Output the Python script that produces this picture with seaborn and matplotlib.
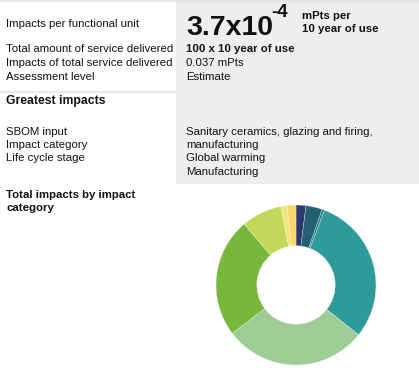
import matplotlib.pyplot as plt
from matplotlib.patches import Rectangle
from matplotlib.lines import Line2D
import seaborn as sns

sns.set_style("white")
plt.rcParams['font.family'] = ['Liberation Sans', 'DejaVu Sans']

W, H = 419, 384

# Datos
share_pct = [2.0, 3.3, 0.5, 29.9, 29.0, 24.1, 8.2, 1.2, 1.8]
slice_colors = ['#2b3a6b', '#245f74', '#1d7f86', '#2e9a99', '#9dcd95',
                '#77b73b', '#c3d85b', '#f2e57e', '#fbd567']

row_labels = ['Total amount of service delivered', 'Impacts of total service delivered',
              'Assessment level']
row_values = ['100 x 10 year of use', '0.037 mPts', 'Estimate']
greatest_labels = ['SBOM input', 'Impact category', 'Life cycle stage']
greatest_values = ['Sanitary ceramics, glazing and firing,', 'manufacturing',
                   'Global warming', 'Manufacturing']

fig = plt.figure(figsize=(W / 100, H / 100), dpi=100)


def px(x, y):
    return x / W, 1 - y / H


def txt(x, y, s, size=8.2, weight='normal'):
    fig.text(*px(x, y), s, fontsize=size, fontweight=weight, ha='left', va='baseline',
             color='#111111')


# panel gris de la derecha
fig.patches.append(Rectangle(px(176, 184), (W - 176) / W, 184 / H,
                             transform=fig.transFigure, facecolor='#eeeeee',
                             edgecolor='none', zorder=0))
for yy, x1 in [(1, W), (92, 176)]:
    fig.lines.append(Line2D([0, x1 / W], [1 - yy / H] * 2, transform=fig.transFigure,
                            color='#e4e4e4', linewidth=1.2))

# bloque superior
txt(6, 27, 'Impacts per functional unit')
txt(186, 35, '3.7x10', size=20.5, weight='bold')
txt(271, 17, '-4', size=13.5, weight='bold')
txt(302, 19, 'mPts per', weight='bold')
txt(302, 32, '10 year of use', weight='bold')
for i, (lab, val) in enumerate(zip(row_labels, row_values)):
    y = 52 + i * 14
    txt(6, y, lab)
    txt(186, y, val, weight='bold' if i == 0 else 'normal')

# mayores impactos
txt(6, 104, 'Greatest impacts', size=8.8, weight='bold')
for i, lab in enumerate(greatest_labels):
    txt(6, 135 + i * 13.2, lab)
for i, val in enumerate(greatest_values):
    txt(186, 135 + i * 13.2, val)

txt(6, 198, 'Total impacts by impact', weight='bold')
txt(6, 211, 'category', weight='bold')

# donut
cx, cy, r = 296, 285, 80
ax = fig.add_axes([(cx - r) / W, 1 - (cy + r) / H, 2 * r / W, 2 * r / H])
ax.pie(share_pct, colors=slice_colors, startangle=90, counterclock=False, radius=1,
       wedgeprops=dict(width=0.51, edgecolor='white', linewidth=0.2))
ax.set_xlim(-1, 1)
ax.set_ylim(-1, 1)
ax.set_aspect('equal')
ax.axis('off')

fig.savefig('out.png', dpi=100)
